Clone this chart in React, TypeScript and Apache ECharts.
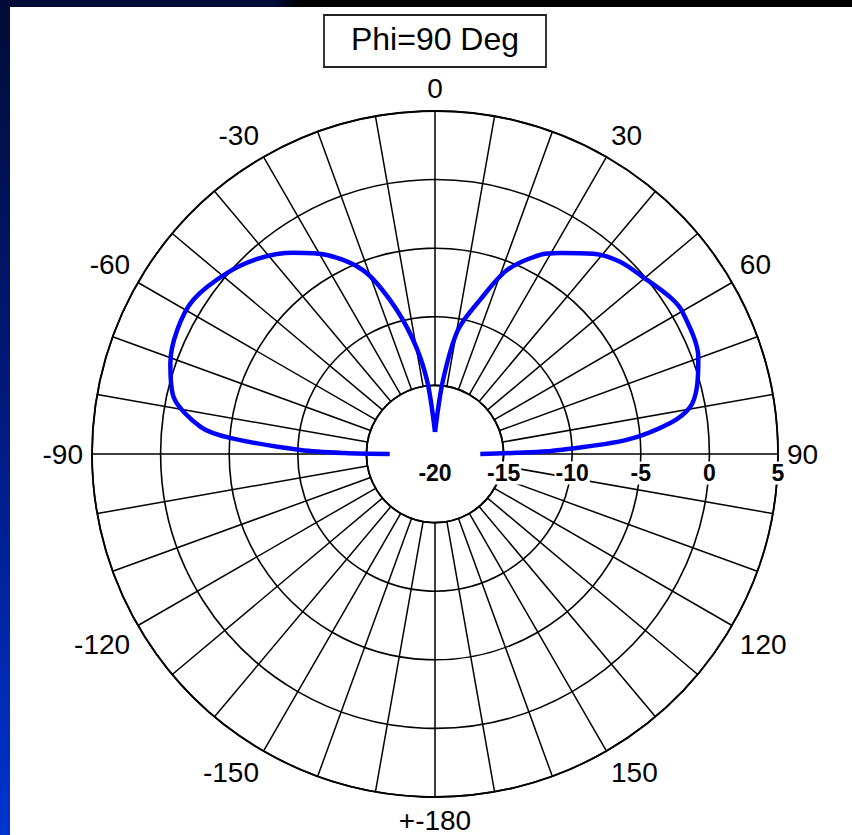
import React, { useEffect, useRef } from 'react';
import * as echarts from 'echarts';

// Pattern cut at Phi = 90 deg: theta (deg) and gain (dB)
const thetaDeg = [
  -90, -89.4, -88.3, -85.5, -83.4, -77.7, -71, -64.3, -57.5, -49, -41.8, -35.2,
  -28.5, -21.4, -16.3, -10.9, -6.2, 0, 6.2, 10.5, 16.3, 21.4, 27.8, 31.9, 38.3,
  43.9, 49.6, 56.3, 60.2, 69.8, 75.7, 79.6, 82.5, 85.8, 88.2, 88.9, 90,
];
const gainDb = [
  -16.7, -13.4, -10.2, -5.0, -2.8, -0.5, 0.4, 0.85, 0.9, 0.1, -0.85, -2.05,
  -3.5, -5.6, -8.3, -11.5, -14.6, -18.4, -14.6, -10.8, -8.3, -5.6, -3.6, -2.75,
  -1.4, -0.55, -0.1, 0.6, 0.8, 0.45, -0.3, -1.1, -2.7, -6.0, -10.9, -12.6, -16.7,
];
const radialTicks = [-20, -15, -10, -5, 0, 5];
const angleLabelStep = 30;
const titleText = 'Phi=90 Deg';

export default function App() {
  const ref = useRef<HTMLDivElement>(null);

  useEffect(() => {
    if (!ref.current) return;
    const chart = echarts.init(ref.current, null, { renderer: 'svg' });
    const center: [number, number] = [425, 447];
    const R = 343;
    const rMin = radialTicks[0];
    const rMax = radialTicks[radialTicks.length - 1];
    const rStep = radialTicks[1] - radialTicks[0];
    const innerR = (R * (radialTicks[1] - rMin)) / (rMax - rMin);
    const font = "'Liberation Sans', Arial, Helvetica, sans-serif";
    const gridColor = '#000';

    const data = thetaDeg.map((t, i) => [gainDb[i], t]);
    const cusp = thetaDeg.indexOf(0);
    const leftLobe = data.slice(0, cusp + 1);
    const rightLobe = data.slice(cusp);

    const lobe = (d: number[][]) => ({
      type: 'line',
      coordinateSystem: 'polar',
      polarIndex: 1,
      data: d,
      symbol: 'none',
      smooth: 0.3,
      z: 5,
      lineStyle: { color: '#0000ff', width: 4.5 },
    });

    chart.setOption({
      animation: false,
      polar: [
        { center, radius: [innerR, R] },
        { center, radius: [0, R] },
        { center, radius: [0, R] },
      ],
      angleAxis: [
        {
          polarIndex: 0,
          type: 'value',
          min: -180,
          max: 180,
          interval: 10,
          startAngle: 270,
          clockwise: true,
          axisLine: { lineStyle: { color: gridColor, width: 1.8 } },
          axisTick: { show: false },
          splitLine: { lineStyle: { color: gridColor, width: 1.5 } },
          axisLabel: {
            margin: 9,
            fontSize: 28,
            color: '#000',
            fontFamily: font,
            formatter: (v: number) => {
              if (v % angleLabelStep !== 0) return '';
              if (v === -180) return '+-180';
              if (v === 180) return '';
              return String(v);
            },
          },
        },
        {
          polarIndex: 1,
          type: 'value',
          min: -180,
          max: 180,
          startAngle: 270,
          clockwise: true,
          show: false,
        },
        {
          polarIndex: 2,
          type: 'value',
          min: 0,
          max: 360,
          startAngle: 0,
          show: false,
        },
      ],
      radiusAxis: [
        {
          polarIndex: 0,
          type: 'value',
          min: radialTicks[1],
          max: rMax,
          interval: rStep,
          axisLine: { show: false },
          axisTick: { show: false },
          axisLabel: { show: false },
          splitLine: { lineStyle: { color: gridColor, width: 1.6 } },
        },
        {
          polarIndex: 1,
          type: 'value',
          min: rMin,
          max: rMax,
          show: false,
        },
        {
          polarIndex: 2,
          type: 'value',
          min: rMin,
          max: rMax,
          interval: rStep,
          z: 10,
          axisLine: { show: false },
          axisTick: { show: false },
          splitLine: { show: false },
          axisLabel: {
            margin: -19,
            verticalAlign: 'middle',
            fontSize: 23,
            fontWeight: 'bold',
            color: '#000',
            fontFamily: font,
            backgroundColor: '#fff',
            padding: [0, 1],
          },
        },
      ],
      series: [lobe(leftLobe), lobe(rightLobe)],
      graphic: [
        {
          type: 'rect',
          shape: { x: 314, y: 8, width: 222, height: 52 },
          style: { fill: '#fff', stroke: '#222', lineWidth: 1.8 },
        },
        {
          type: 'text',
          x: 425,
          y: 32,
          style: {
            text: titleText,
            fontSize: 32,
            fontFamily: font,
            fill: '#000',
            textAlign: 'center',
            textVerticalAlign: 'middle',
          },
        },
      ],
    });

    return () => chart.dispose();
  }, []);

  return (
    <div
      style={{
        position: 'absolute',
        left: 0,
        top: 0,
        width: 852,
        height: 835,
        overflow: 'hidden',
        background: 'linear-gradient(to bottom, #000c36 0%, #001a80 50%, #0034d0 100%)',
      }}
    >
      <div
        style={{
          position: 'absolute',
          left: 0,
          top: 0,
          width: 852,
          height: 7,
          background: 'linear-gradient(to right, rgba(0,0,0,0) 0px, rgba(0,0,0,0) 275px, #000 300px, #000 852px)',
        }}
      />
      <div
        style={{
          position: 'absolute',
          left: 10,
          top: 7,
          width: 842,
          height: 828,
          background: '#fff',
        }}
      >
        <div ref={ref} style={{ width: 842, height: 828 }} />
      </div>
    </div>
  );
}
